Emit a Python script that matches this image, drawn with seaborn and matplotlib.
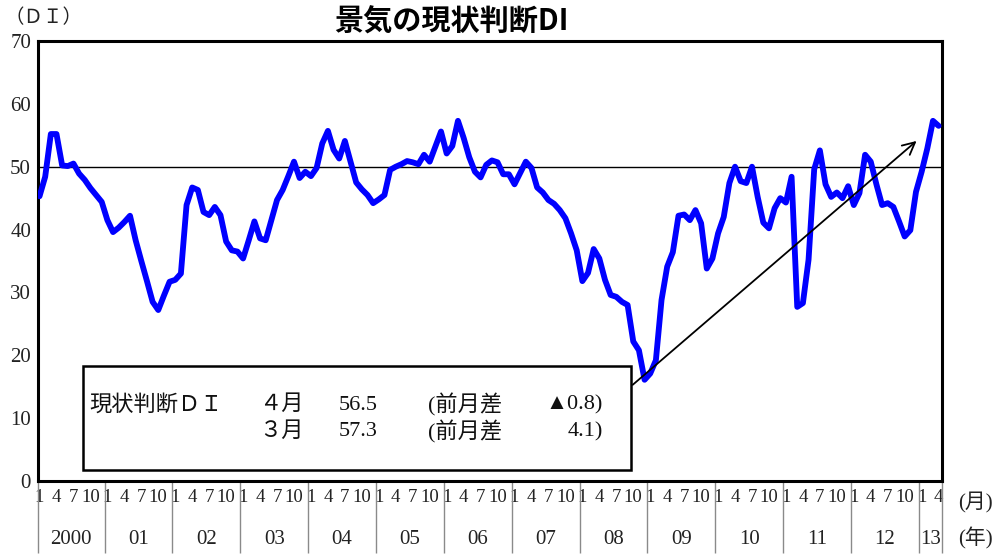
import matplotlib
matplotlib.use("Agg")
import matplotlib.pyplot as plt
import seaborn as sns
import pandas as pd
from matplotlib.patches import Rectangle

# ---- data ----
years = ["2000", "01", "02", "03", "04", "05", "06", "07", "08", "09", "10", "11", "12", "13"]
month_labels = ["1", "4", "7", "10"]
di_2000 = [45.3, 48.4, 55.2, 55.2, 50.2, 50.1, 50.5, 48.9, 47.9, 46.6, 45.5, 44.4]
di_2001 = [41.5, 39.6, 40.3, 41.2, 42.2, 38.3, 35.0, 31.8, 28.5, 27.2, 29.5, 31.7]
di_2002 = [32.0, 33.0, 43.9, 46.7, 46.3, 42.8, 42.3, 43.6, 42.3, 38.1, 36.7, 36.5]
di_2003 = [35.4, 38.3, 41.3, 38.6, 38.3, 41.5, 44.7, 46.3, 48.5, 50.8, 48.2, 49.2]
di_2004 = [48.5, 49.8, 53.7, 55.7, 52.7, 51.3, 54.1, 50.8, 47.5, 46.4, 45.5, 44.2]
di_2005 = [44.8, 45.5, 49.5, 50.0, 50.4, 50.9, 50.7, 50.4, 51.9, 50.8, 53.2, 55.6]
di_2006 = [52.1, 53.3, 57.3, 54.6, 51.5, 49.2, 48.3, 50.3, 51.0, 50.7, 48.8, 48.8]
di_2007 = [47.2, 49.0, 50.8, 49.8, 46.7, 45.9, 44.7, 44.1, 43.1, 41.8, 39.4, 36.7]
di_2008 = [31.8, 33.1, 36.9, 35.4, 32.0, 29.6, 29.3, 28.5, 28.0, 22.2, 20.8, 16.1]
di_2009 = [17.1, 19.2, 28.8, 34.1, 36.4, 42.2, 42.4, 41.5, 43.1, 41.0, 33.8, 35.4]
di_2010 = [39.4, 42.0, 47.4, 50.0, 47.7, 47.4, 50.0, 45.2, 41.1, 40.2, 43.4, 45.0]
di_2011 = [44.3, 48.4, 27.7, 28.3, 35.2, 49.6, 52.6, 47.2, 45.2, 45.9, 45.0, 46.9]
di_2012 = [43.9, 45.8, 51.9, 50.8, 47.2, 43.9, 44.2, 43.6, 41.3, 38.9, 39.9, 46.0]
di_2013 = [49.2, 52.9, 57.3, 56.5]

di = (di_2000 + di_2001 + di_2002 + di_2003 + di_2004 + di_2005 + di_2006 +
      di_2007 + di_2008 + di_2009 + di_2010 + di_2011 + di_2012 + di_2013)
months = list(range(len(di)))
df = pd.DataFrame({"month": months, "DI": di})

box_rows = [
    ("現状判断ＤＩ", "４月", "56.5", "(前月差", "▲0.8)"),
    ("", "３月", "57.3", "(前月差", "4.1)"),
]

# ---- style ----
sns.set_theme(style="white")
plt.rcParams['font.family'] = ['Liberation Serif', 'Noto Sans CJK JP', 'DejaVu Sans']

W, H = 998, 555
fig = plt.figure(figsize=(W / 100, H / 100), dpi=100)
L, R, T, B = 38, 942, 41, 481
ax = fig.add_axes([L / W, 1 - B / H, (R - L) / W, (B - T) / H])

xmin, xmax = -0.27, 159.6
ax.axhline(50, color="black", lw=1.0, zorder=1)
sns.lineplot(data=df, x="month", y="DI", color="#0000FF", linewidth=4.2, ax=ax, zorder=3)

ax.set_xlim(xmin, xmax)
ax.set_ylim(0, 70)
ax.set_xlabel("")
ax.set_ylabel("")
for s in ax.spines.values():
    s.set_visible(True)
    s.set_color("black")
    s.set_linewidth(2.2)

ax.set_yticks(range(0, 71, 10))
ax.tick_params(axis="y", length=0, pad=5, labelsize=15, labelcolor="#222222")

xt, xl = [], []
for k in range(len(years)):
    for j, m in enumerate((0, 3, 6, 9)):
        pos = 12 * k + m
        if pos < len(di):
            xt.append(pos)
            xl.append(month_labels[j])
ax.set_xticks(xt)
ax.set_xticklabels(xl)
ax.tick_params(axis="x", length=0, pad=6, labelsize=13.5, labelcolor="#222222")

xtr = ax.get_xaxis_transform()
bounds = [xmin] + [12 * k - 0.5 for k in range(1, len(years))] + [xmax]
ax.vlines(bounds, -(553 - B) / (B - T), 0, transform=xtr, colors="#8a8a8a", lw=1.0, clip_on=False)
for k, lab in enumerate(years):
    c = (bounds[k] + bounds[k + 1]) / 2
    ax.text(c, -(540 - B) / (B - T), lab, transform=xtr, ha="center", va="center",
            fontsize=15, color="#222222")

# arrow
ax.annotate("", xy=(155.1, 54.1), xytext=(104.9, 15.3),
            arrowprops=dict(arrowstyle="->", color="black", lw=1.3,
                            mutation_scale=22, shrinkA=0, shrinkB=0), zorder=4)

# text box
fig.add_artist(Rectangle((83 / W, 1 - 470 / H), (631 - 83) / W, (470 - 366) / H,
                         transform=fig.transFigure, facecolor="white",
                         edgecolor="black", lw=1.8, zorder=5))
row_y = [405, 432]
col_x = [89, 259, 339, 428]
for r, row in enumerate(box_rows):
    y = 1 - row_y[r] / H
    for c in range(4):
        if row[c]:
            fig.text(col_x[c] / W, y, row[c], ha="left", va="center", fontsize=16,
                     zorder=6, color="#111111")
    fig.text(603 / W, y, row[4], ha="right", va="center", fontsize=16, zorder=6,
             color="#111111")

# labels
fig.text(4 / W, 1 - 18 / H, "（ＤＩ）", ha="left", va="center", fontsize=14, color="#222222")
fig.text(975 / W, 1 - 503 / H, "(月)", ha="center", va="center", fontsize=15, color="#222222")
fig.text(975 / W, 1 - 538 / H, "(年)", ha="center", va="center", fontsize=15, color="#222222")
fig.text(451 / W, 1 - 22 / H, "景気の現状判断DI", ha="center", va="center", fontsize=21,
         fontweight="bold", family=["Noto Sans CJK JP"], color="black")

fig.savefig("out.png", dpi=100, facecolor="white")
